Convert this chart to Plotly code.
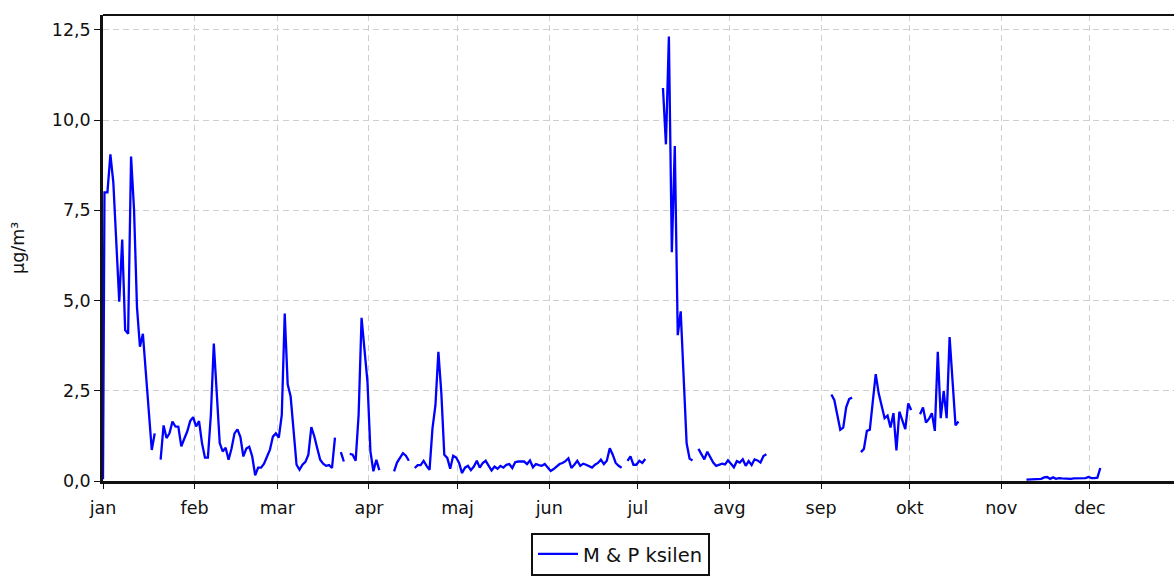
import pandas as pd
import plotly.graph_objects as go

# ---------------- data ----------------
year_start = "2023-01-01"
first_reading_time = "2023-01-01 00:00"
first_reading_value = 0.05

# daily values (plotted at midday), None = no measurement
daily_values = [
    8.0, 8.0, 9.05, 8.27, 6.6, 4.97, 6.69, 4.18, 4.08, 8.99,
    7.53, 4.82, 3.72, 4.08, 3.0, 1.92, 0.86, 1.32, None, 0.59,
    1.54, 1.19, 1.32, 1.65, 1.51, 1.5, 0.96, 1.17, 1.37, 1.66,
    1.77, 1.51, 1.66, 1.05, 0.65, 0.65, 1.83, 3.81, 2.43, 1.05,
    0.82, 0.92, 0.59, 0.9, 1.32, 1.43, 1.22, 0.68, 0.9, 0.95,
    0.68, 0.16, 0.37, 0.37, 0.48, 0.7, 0.87, 1.23, 1.32, 1.2,
    1.83, 4.64, 2.68, 2.34, 1.46, 0.45, 0.31, 0.45, 0.53, 0.73,
    1.49, 1.24, 0.91, 0.59, 0.48, 0.42, 0.44, 0.36, 1.2, None,
    0.8, 0.54, None, 0.75, 0.73, 0.56, 1.83, 4.52, 3.67, 2.75,
    0.82, 0.27, 0.59, 0.3, None, None, None, None, 0.27, 0.51,
    0.64, 0.77, 0.7, 0.56, None, 0.36, 0.44, 0.44, 0.56, 0.42,
    0.31, 1.46, 2.1, 3.58, 2.43, 0.73, 0.64, 0.34, 0.7, 0.65,
    0.5, 0.22, 0.37, 0.42, 0.30, 0.40, 0.56, 0.37, 0.50, 0.56,
    0.42, 0.29, 0.40, 0.34, 0.42, 0.37, 0.45, 0.47, 0.36, 0.52,
    0.54, 0.54, 0.54, 0.47, 0.57, 0.38, 0.47, 0.44, 0.42, 0.47,
    0.38, 0.28, 0.33, 0.40, 0.47, 0.50, 0.55, 0.63, 0.36, 0.45,
    0.56, 0.42, 0.48, 0.45, 0.42, 0.37, 0.45, 0.50, 0.59, 0.47,
    0.56, 0.91, 0.73, 0.50, 0.42, 0.37, None, 0.56, 0.68, 0.45,
    0.45, 0.56, 0.50, 0.61, None, None, None, None, None, 10.89,
    9.33, 12.32, 6.34, 9.28, 4.04, 4.70, 2.88, 1.05, 0.62, 0.57,
    None, 0.89, 0.73, 0.60, 0.81, 0.66, 0.51, 0.42, 0.44, 0.48,
    0.46, 0.57, 0.48, 0.38, 0.55, 0.51, 0.60, 0.42, 0.55, 0.44,
    0.60, 0.57, 0.51, 0.69, 0.74, None, None, None, None, None,
    None, None, None, None, None, None, None, None, None, None,
    None, None, None, None, None, None, 2.40, 2.24, 1.83, 1.42,
    1.48, 2.04, 2.27, 2.31, None, None, 0.80, 0.89, 1.39, 1.42,
    2.20, 2.96, 2.43, 2.09, 1.74, 1.81, 1.48, 1.88, 0.85, 1.92,
    1.69, 1.44, 2.15, 1.97, None, None, 1.85, 2.04, 1.62, 1.72,
    1.88, 1.39, 3.58, 1.74, 2.49, 1.74, 3.99, 2.66, 1.54, 1.65,
    None, None, None, None, None, None, None, None, None, None,
    None, None, None, None, None, None, None, None, None, None,
    None, None, 0.04, 0.04, 0.04, 0.04, 0.05, 0.06, 0.10, 0.11,
    0.06, 0.10, 0.06, 0.08, 0.07, 0.06, 0.06, 0.06, 0.07, 0.07,
    0.08, 0.08, 0.08, 0.11, 0.08, 0.08, 0.09, 0.36,
]

month_labels = ["jan", "feb", "mar", "apr", "maj", "jun",
                "jul", "avg", "sep", "okt", "nov", "dec"]
y_ticks = [0, 2.5, 5, 7.5, 10, 12.5]
series_name = "M & P ksilen"
y_title = "µg/m³"

# ---------------- build ----------------
start = pd.Timestamp(year_start)
times = [pd.Timestamp(first_reading_time)] + [
    start + pd.Timedelta(days=i, hours=12) for i in range(len(daily_values))
]
values = [first_reading_value] + daily_values
month_starts = pd.date_range(year_start, periods=12, freq="MS")

W, H = 1174, 576
L, R, T, B = 103, 0, 15, 93
plot_w = W - L - R
plot_h = H - T - B
px_per_day = 2.955
x_end = start + pd.Timedelta(days=plot_w / px_per_day)

font_family = "DejaVu Sans, Verdana, sans-serif"

fig = go.Figure()
fig.add_trace(go.Scatter(
    x=times, y=values, mode="lines", name=series_name,
    line=dict(color="#0000ff", width=2.3), connectgaps=False,
))

grid_dash = "6px,4px"
fig.update_layout(
    width=W, height=H,
    margin=dict(l=L, r=R, t=T, b=B, pad=0),
    paper_bgcolor="white", plot_bgcolor="white",
    font=dict(family=font_family, size=17.5, color="#111111"),
    separators=",.",
    showlegend=True,
    legend=dict(
        orientation="h", x=(531 - L) / plot_w, xanchor="left",
        y=(H - B - 535) / plot_h, yanchor="top",
        bordercolor="#111111", borderwidth=2, bgcolor="white",
        font=dict(size=19.5), itemwidth=40,
    ),
    xaxis=dict(
        type="date", range=[start, x_end],
        tickvals=list(month_starts), ticktext=month_labels,
        ticks="outside", ticklen=5, tickwidth=1, tickcolor="#111111",
        ticklabelstandoff=4,
        showline=True, linecolor="#111111", linewidth=2.5,
        showgrid=True, gridcolor="#cfcfcf", gridwidth=1, griddash=grid_dash,
        zeroline=False,
    ),
    yaxis=dict(
        range=[0, plot_h / 36.24],
        tickvals=y_ticks, tickformat=".1f",
        ticks="outside", ticklen=6, tickwidth=1, tickcolor="#111111",
        showline=True, linecolor="#111111", linewidth=2.5,
        showgrid=True, gridcolor="#cfcfcf", gridwidth=1, griddash=grid_dash,
        zeroline=False,
    ),
    shapes=[dict(type="line", xref="paper", yref="paper",
                 x0=0, x1=1, y0=1, y1=1,
                 line=dict(color="#111111", width=2))],
    annotations=[dict(
        text=y_title, xref="paper", yref="paper",
        x=(18 - L) / plot_w, y=0.5, xanchor="center", yanchor="middle",
        textangle=-90, showarrow=False, font=dict(size=17.5),
    )],
)

fig.write_html(
    "out.html",
    config={"displayModeBar": False},
    post_script="document.body.style.margin='0';document.body.style.overflow='hidden';",
)
